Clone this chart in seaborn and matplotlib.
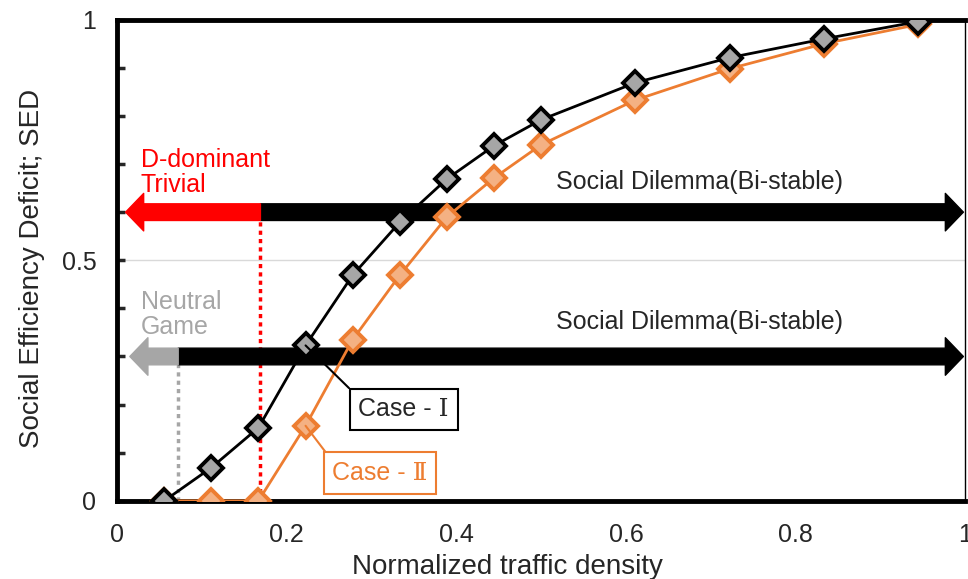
import pandas as pd
import seaborn as sns
import matplotlib.pyplot as plt
from matplotlib.patches import FancyArrowPatch
from matplotlib.ticker import MultipleLocator, FuncFormatter

# density values (n/18) and SED for both cases
density = [1/18, 2/18, 3/18, 4/18, 5/18, 6/18, 7/18, 8/18, 9/18, 11/18, 13/18, 15/18, 17/18]
sed_case1 = [0.0, 0.069, 0.152, 0.323, 0.469, 0.579, 0.669, 0.738, 0.792, 0.869, 0.921, 0.960, 0.996]
sed_case2 = [0.0, 0.0, 0.0, 0.156, 0.335, 0.469, 0.590, 0.671, 0.740, 0.833, 0.898, 0.950, 0.990]

# phase boundaries
d_dominant_edge = 0.169
neutral_edge = 0.072
upper_level = 0.6
lower_level = 0.3

sns.set_style('white')
plt.rcParams['font.family'] = ['Liberation Sans', 'DejaVu Serif', 'DejaVu Sans']

df = pd.DataFrame({'density': density, 'case1': sed_case1, 'case2': sed_case2})

fig = plt.figure(figsize=(9.68, 5.79), dpi=100)
ax = fig.add_axes([0.121, 0.135, 0.876, 0.831])

ax.axhline(0.5, color='#d9d9d9', lw=1, zorder=0)

# dotted boundaries
ax.plot([d_dominant_edge, d_dominant_edge], [0, upper_level], color='red', ls=(0, (1.2, 1.2)), lw=2.5, zorder=1)
ax.plot([neutral_edge, neutral_edge], [0, lower_level], color='#a6a6a6', ls=(0, (1.2, 1.2)), lw=2.5, zorder=1)


def arrow(x0, x1, y, color):
    p = FancyArrowPatch((x0, y), (x1, y), arrowstyle='simple,head_length=0.65,head_width=1.35,tail_width=0.6',
                        mutation_scale=20, color=color, shrinkA=0, shrinkB=0, zorder=2)
    ax.add_patch(p)


arrow(d_dominant_edge, 0.998, upper_level, 'black')
arrow(d_dominant_edge, 0.01, upper_level, '#ff0000')
arrow(neutral_edge, 0.998, lower_level, 'black')
arrow(neutral_edge, 0.015, lower_level, '#a6a6a6')

sns.lineplot(data=df, x='density', y='case2', ax=ax, color='#ED7D31', lw=2, marker='D', markersize=12.5,
             markerfacecolor='#F4B183', markeredgecolor='#ED7D31', markeredgewidth=2.8, zorder=3)
sns.lineplot(data=df, x='density', y='case1', ax=ax, color='black', lw=2, marker='D', markersize=12.5,
             markerfacecolor='#a6a6a6', markeredgecolor='black', markeredgewidth=2.8, zorder=4)

ax.text(0.028, 0.683, 'D-dominant\nTrivial', color='red', fontsize=18, ha='left', va='center', linespacing=1.05)
ax.text(0.028, 0.388, 'Neutral\nGame', color='#a6a6a6', fontsize=18, ha='left', va='center', linespacing=1.05)
ax.text(0.687, 0.662, 'Social Dilemma(Bi-stable)', fontsize=18, ha='center', va='center')
ax.text(0.687, 0.371, 'Social Dilemma(Bi-stable)', fontsize=18, ha='center', va='center')

ax.annotate('Case - Ⅰ', xy=(4/18, sed_case1[3]), xytext=(0.338, 0.19), fontsize=18, ha='center', va='center',
            bbox=dict(boxstyle='square,pad=0.35', fc='white', ec='black', lw=1.5),
            arrowprops=dict(arrowstyle='-', color='black', lw=1.5, shrinkA=0, shrinkB=0, relpos=(0, 1)), zorder=5)
ax.annotate('Case - Ⅱ', xy=(4/18, sed_case2[3]), xytext=(0.31, 0.058), fontsize=18, ha='center', va='center',
            color='#ED7D31',
            bbox=dict(boxstyle='square,pad=0.35', fc='white', ec='#ED7D31', lw=1.5),
            arrowprops=dict(arrowstyle='-', color='#ED7D31', lw=1.5, shrinkA=0, shrinkB=0, relpos=(0, 1)), zorder=5)

ax.set_xlim(0, 1)
ax.set_ylim(0, 1)
ax.set_xticks([0, 0.2, 0.4, 0.6, 0.8, 1])
ax.set_yticks([0, 0.5, 1])
ax.yaxis.set_minor_locator(MultipleLocator(0.1))
fmt = FuncFormatter(lambda v, p: '%g' % v)
ax.xaxis.set_major_formatter(fmt)
ax.yaxis.set_major_formatter(fmt)
ax.tick_params(axis='y', which='both', direction='in', length=6, width=2.5, left=True, labelsize=18, pad=15)
ax.tick_params(axis='x', which='both', length=0, labelsize=18, pad=16)

for side in ['top', 'left', 'bottom']:
    ax.spines[side].set_linewidth(3.5)
    ax.spines[side].set_color('black')
ax.spines['right'].set_linewidth(1)
ax.spines['right'].set_color('black')

ax.set_xlabel('Normalized traffic density', fontsize=20, labelpad=5)
ax.set_ylabel('Social Efficiency Deficit; SED', fontsize=20, labelpad=12)
ax.xaxis.label.set_x(0.46)
ax.yaxis.label.set_y(0.484)

fig.savefig('out.png', dpi=100)
